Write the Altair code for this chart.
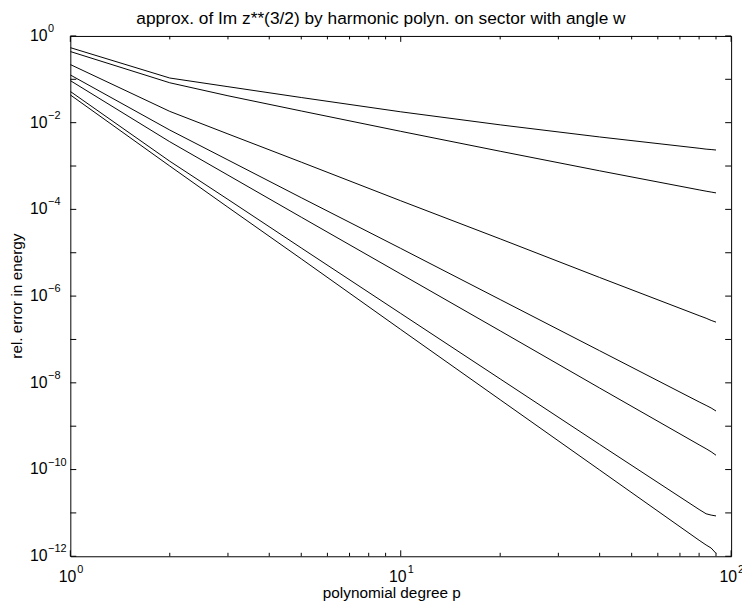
import altair as alt
import pandas as pd

# ---- data ----
degree = [1, 2, 3, 5, 10, 20, 40, 80, 84, 87, 90]
err_1 = [0.537, 0.107, 0.0676, 0.0380, 0.0178, 8.9e-3, 4.68e-3, 2.57e-3, 2.45e-3, 2.40e-3, 2.34e-3]
err_2 = [0.437, 0.0832, 0.0417, 0.0186, 6.31e-3, 2.19e-3, 7.76e-4, 2.82e-4, 2.63e-4, 2.51e-4, 2.40e-4]
err_3 = [0.219, 0.0182, 5.50e-3, 1.23e-3, 1.58e-4, 2.09e-5, 2.69e-6, 3.55e-7, 3.09e-7, 2.75e-7, 2.51e-7]
err_4 = [0.126, 6.76e-3, 1.38e-3, 1.86e-4, 1.26e-5, 8.32e-7, 5.50e-8, 3.63e-9, 3.02e-9, 2.63e-9, 2.24e-9]
err_5 = [0.0933, 3.63e-3, 6.17e-4, 6.61e-5, 3.24e-6, 1.58e-7, 7.59e-9, 3.72e-10, 3.02e-10, 2.57e-10, 2.14e-10]
err_6 = [0.0525, 1.29e-3, 1.70e-4, 1.29e-5, 3.98e-7, 1.23e-8, 3.80e-10, 1.20e-11, 9.55e-12, 8.91e-12, 8.51e-12]
err_7 = [0.0437, 1.0e-3, 1.12e-4, 7.24e-6, 1.70e-7, 4.07e-9, 9.77e-11, 2.34e-12, 1.82e-12, 1.55e-12, 1.17e-12]

x_major_ticks = [1, 10, 100]
x_minor_ticks = [2, 3, 4, 5, 6, 7, 8, 9, 20, 30, 40, 50, 60, 70, 80, 90]
x_label_exp = ["0", "1", "2"]
y_ticks = [1, 1e-1, 1e-2, 1e-3, 1e-4, 1e-5, 1e-6, 1e-7, 1e-8, 1e-9, 1e-10, 1e-11, 1e-12]
y_label_vals = [1, 1e-2, 1e-4, 1e-6, 1e-8, 1e-10, 1e-12]
y_label_exp = ["0", "\u22122", "\u22124", "\u22126", "\u22128", "\u221210", "\u221212"]

title_text = "approx. of Im z**(3/2) by harmonic polyn. on sector with angle w"
x_title = "polynomial degree p"
y_title = "rel. error in energy"

W, H = 668, 526
FONT = "Liberation Sans"

rows = []
for name, errs in [("1", err_1), ("2", err_2), ("3", err_3), ("4", err_4),
                   ("5", err_5), ("6", err_6), ("7", err_7)]:
    for p, e in zip(degree, errs):
        rows.append({"series": name, "p": p, "err": e})
df_lines = pd.DataFrame(rows)

xs = alt.Scale(type="log", domain=[1, 100], nice=False)
ys = alt.Scale(type="log", domain=[1e-12, 1], nice=False)

lines = alt.Chart(df_lines).mark_line(color="black", strokeWidth=1, clip=True).encode(
    x=alt.X("p:Q", scale=xs, axis=None),
    y=alt.Y("err:Q", scale=ys, axis=None),
    detail="series:N",
)

df_xmaj = pd.DataFrame({"v": x_major_ticks, "e": x_label_exp})
df_xmin = pd.DataFrame({"v": x_minor_ticks})
df_y = pd.DataFrame({"v": y_ticks})
df_yl = pd.DataFrame({"v": y_label_vals, "e": y_label_exp})


def xticks(df, length):
    bot = alt.Chart(df).mark_rule(color="black", strokeWidth=1).encode(
        x=alt.X("v:Q", scale=xs, axis=None), y=alt.value(H), y2=alt.value(H - length))
    top = alt.Chart(df).mark_rule(color="black", strokeWidth=1).encode(
        x=alt.X("v:Q", scale=xs, axis=None), y=alt.value(0), y2=alt.value(length))
    return bot + top


yt_left = alt.Chart(df_y).mark_rule(color="black", strokeWidth=1).encode(
    y=alt.Y("v:Q", scale=ys, axis=None), x=alt.value(0), x2=alt.value(6))
yt_right = alt.Chart(df_y).mark_rule(color="black", strokeWidth=1).encode(
    y=alt.Y("v:Q", scale=ys, axis=None), x=alt.value(W), x2=alt.value(W - 6))

x_base = alt.Chart(df_xmaj).mark_text(font=FONT, fontSize=16, align="right", baseline="alphabetic", dx=6).encode(
    x=alt.X("v:Q", scale=xs, axis=None), y=alt.value(H + 26), text=alt.value("10"))
x_exp = alt.Chart(df_xmaj).mark_text(font=FONT, fontSize=11, align="left", baseline="alphabetic", dx=7).encode(
    x=alt.X("v:Q", scale=xs, axis=None), y=alt.value(H + 17), text="e:N")

y_base = alt.Chart(df_yl).mark_text(font=FONT, fontSize=16, align="right", baseline="alphabetic", dy=5).encode(
    y=alt.Y("v:Q", scale=ys, axis=None), x=alt.value(-23), text=alt.value("10"))
y_exp = alt.Chart(df_yl).mark_text(font=FONT, fontSize=11, align="left", baseline="alphabetic", dy=-4).encode(
    y=alt.Y("v:Q", scale=ys, axis=None), x=alt.value(-22.5), text="e:N")

df_t = pd.DataFrame({"t": [title_text]})
title = alt.Chart(df_t).mark_text(font=FONT, fontSize=17.5, align="center", baseline="alphabetic").encode(
    x=alt.value(314), y=alt.value(-12), text="t:N")
df_xt = pd.DataFrame({"t": [x_title]})
xtitle = alt.Chart(df_xt).mark_text(font=FONT, fontSize=15.5, align="center", baseline="alphabetic").encode(
    x=alt.value(325), y=alt.value(H + 42), text="t:N")
df_yt = pd.DataFrame({"t": [y_title]})
ytitle = alt.Chart(df_yt).mark_text(font=FONT, fontSize=15.5, align="center", baseline="middle", angle=270).encode(
    x=alt.value(-54), y=alt.value(H / 2), text="t:N")

chart = alt.layer(
    lines,
    xticks(df_xmaj, 6), xticks(df_xmin, 3.5),
    yt_left, yt_right,
    x_base, x_exp, y_base, y_exp,
    title, xtitle, ytitle,
).properties(
    width=W, height=H,
    autosize=alt.AutoSizeParams(type="none"),
    padding={"left": 63, "top": 25, "right": 11, "bottom": 45},
    background="white",
).configure_view(stroke="black", strokeWidth=1)

chart.save("out.html", embed_options={"renderer": "svg", "actions": False})
